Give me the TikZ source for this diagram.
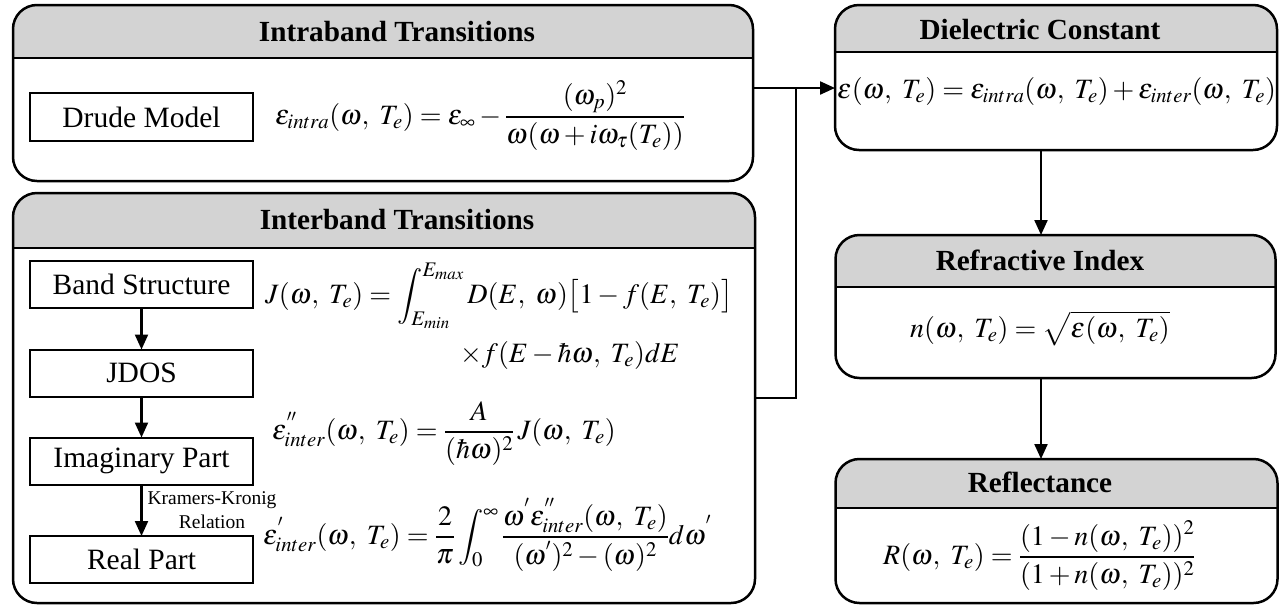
\documentclass[tikz,border=0pt]{standalone}
\usepackage{amsmath}
\usepackage{mathptmx}
\usepackage[no-math]{fontspec}
\setmainfont{Liberation Serif}
\usetikzlibrary{arrows.meta,backgrounds}
\definecolor{headgray}{RGB}{211,211,211}
\tikzset{
 panel/.style={draw, line width=2.5pt, rounded corners=24pt, inner sep=0pt, outer sep=0pt},
 hline/.style={line width=2.5pt},
 stepbox/.style={draw, line width=2pt, minimum width=223pt, minimum height=47pt, inner sep=0pt, outer sep=0pt, font=\fontsize{29.5}{32}\selectfont},
 title/.style={font=\fontsize{29.2}{32}\selectfont\bfseries, inner sep=0pt},
 eq/.style={inner sep=0pt, anchor=base west, font=\fontsize{28}{32}\selectfont},
 arr/.style={line width=2.2pt, -{Triangle[length=15pt,width=13pt]}},
 conn/.style={line width=2.2pt},
 small/.style={font=\fontsize{19.5}{24}\selectfont, align=center, inner sep=0pt},
}
\newcommand{\headfill}[2]{%
 \begin{scope}[on background layer]
 \begin{scope}
 \clip (#1.west |- 0,#2) rectangle (#1.north east);
 \fill[headgray, rounded corners=24pt] (#1.south west) rectangle (#1.north east);
 \end{scope}
 \end{scope}
 \draw[hline] (#1.west |- 0,#2) -- (#1.east |- 0,#2);}
\begin{document}
\begin{tikzpicture}[x=1pt,y=-1pt]
\useasboundingbox (0,0) rectangle (1287,606);
% panels
\node[panel, minimum width=740pt, minimum height=176pt] (intra) at (383,93) {};
\node[panel, minimum width=742pt, minimum height=410pt] (inter) at (384,398) {};
\node[panel, minimum width=442pt, minimum height=145pt] (diel) at (1056,77.5) {};
\node[panel, minimum width=440pt, minimum height=143pt] (refr) at (1055.5,306.5) {};
\node[panel, minimum width=442pt, minimum height=144pt] (refl) at (1056.5,531) {};
\headfill{intra}{58}
\headfill{inter}{248}
\headfill{diel}{52}
\headfill{refr}{287}
\headfill{refl}{508}
% titles
\node[title] (tintra) at (397,31.5) {Intraband Transitions};
\node[title] (tinter) at (397,220) {Interband Transitions};
\node[title] (tdiel) at (1040,30) {Dielectric Constant};
\node[title] (trefr) at (1040,260) {Refractive Index};
\node[title] (trefl) at (1040,482) {Reflectance};
% step boxes
\node[stepbox, minimum height=48pt] (drude) at (141.5,117) {Drude Model};
\node[stepbox] (band) at (141.5,284.5) {Band Structure};
\node[stepbox] (jdos) at (141.5,373) {JDOS};
\node[stepbox] (imag) at (141.5,461) {Imaginary Part};
\node[stepbox] (real) at (141.5,559.5) {Real Part};
\draw[arr] (band) -- (jdos);
\draw[arr] (jdos) -- (imag);
\draw[arr] (imag) -- (real);
\node[small] (kk) at (212,510) {Kramers-Kronig\\ \hspace*{0pt}Relation};
% equations
\node[eq] (eintra) at (275,124) {$\varepsilon_{intra}(\omega,\ T_e) = \varepsilon_\infty - \dfrac{(\omega_p)^2}{\omega(\omega + i\omega_\tau(T_e))}$};
\node[eq] (ediel) at (837,98) {$\varepsilon(\omega,\ T_e) = \varepsilon_{intra}(\omega,\ T_e) + \varepsilon_{inter}(\omega,\ T_e)$};
\node[eq] (ej1) at (265,303) {$J(\omega,\ T_e) = \displaystyle\int_{E_{min}}^{E_{max}} D(E,\ \omega)\big[1 - f(E,\ T_e)\big]$};
\node[eq] (ej2) at (460,362) {$\times f(E - \hbar\omega,\ T_e)dE$};
\node[eq] (eim) at (272,439) {$\varepsilon^{''}_{inter}(\omega,\ T_e) = \dfrac{A}{(\hbar\omega)^2}\, J(\omega,\ T_e)$};
\node[eq] (ere) at (263,544) {$\varepsilon^{'}_{inter}(\omega,\ T_e) = \dfrac{2}{\pi}\displaystyle\int_0^\infty \dfrac{\omega^{'}\varepsilon^{''}_{inter}(\omega,\ T_e)}{(\omega^{'})^2 - (\omega)^2} d\omega^{'}$};
\node[eq] (erefr) at (910,337) {$n(\omega,\ T_e) = \sqrt{\varepsilon(\omega,\ T_e)}$};
\node[eq] (erefl) at (883,564) {$R(\omega,\ T_e) = \dfrac{(1 - n(\omega,\ T_e))^2}{(1+n(\omega,\ T_e))^2}$};
% connectors
\coordinate (j) at (796,88);
\draw[arr] (intra.east |- j) -- (diel.west |- j);
\draw[conn] (inter.east) -| (j);
\draw[arr] (diel.south -| 1041,0) -- (refr.north -| 1041,0);
\draw[arr] (refr.south -| 1041,0) -- (refl.north -| 1041,0);
\end{tikzpicture}
\end{document}
